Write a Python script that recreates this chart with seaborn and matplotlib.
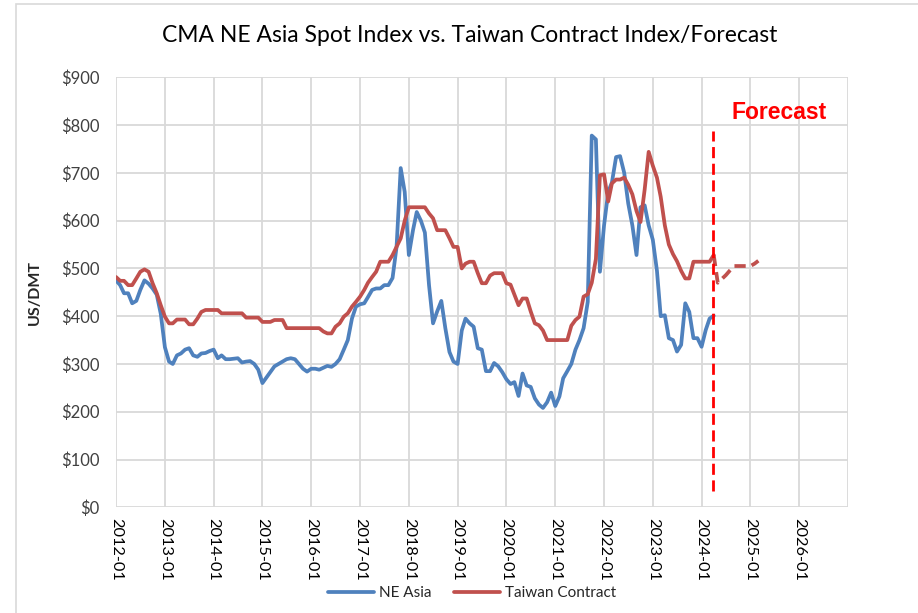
import numpy as np
import pandas as pd
import matplotlib
matplotlib.use("Agg")
import matplotlib.pyplot as plt
from matplotlib.lines import Line2D
from matplotlib.patches import Rectangle
import seaborn as sns

# monthly values, starting 2012-01
start_month = "2012-01-01"

ne_asia = [
    475, 465, 448, 448, 427, 432, 455, 475, 468, 458, 445, 405,   # 2012
    335, 305, 300, 318, 322, 330, 333, 318, 315, 322, 323, 327,   # 2013
    330, 312, 318, 310, 310, 311, 312, 303, 305, 306, 300, 288,   # 2014
    260, 272, 283, 295, 300, 305, 310, 312, 310, 300, 290, 284,   # 2015
    290, 290, 288, 292, 296, 294, 300, 310, 330, 350, 395, 420,   # 2016
    425, 427, 440, 455, 458, 458, 465, 465, 480, 545, 710, 660,   # 2017
    528, 580, 618, 600, 575, 465, 385, 410, 432, 375, 325, 305,   # 2018
    300, 370, 395, 385, 378, 333, 330, 285, 285, 302, 295, 283,   # 2019
    268, 258, 262, 233, 280, 255, 252, 228, 215, 208, 220, 240,   # 2020
    212, 232, 270, 285, 300, 330, 350, 375, 430, 778, 770, 493,   # 2021
    590, 660, 680, 733, 735, 700, 636, 590, 528, 628, 632, 590,   # 2022
    560, 495, 400, 402, 354, 350, 326, 340, 427, 409, 354, 354,   # 2023
    336, 371, 395, 401,                                           # 2024
]

taiwan = [
    482, 474, 474, 465, 465, 479, 493, 498, 493, 469, 448, 423,   # 2012
    399, 385, 385, 393, 393, 393, 383, 383, 395, 409, 413, 413,   # 2013
    413, 413, 406, 406, 406, 406, 406, 406, 397, 397, 397, 397,   # 2014
    388, 388, 388, 392, 392, 392, 375, 375, 375, 375, 375, 375,   # 2015
    375, 375, 375, 368, 364, 364, 378, 385, 399, 406, 420, 430,   # 2016
    441, 455, 470, 482, 493, 514, 514, 514, 528, 545, 563, 600,   # 2017
    628, 628, 628, 628, 628, 615, 605, 580, 580, 580, 563, 545,   # 2018
    545, 500, 510, 514, 514, 490, 469, 469, 485, 490, 490, 490,   # 2019
    469, 466, 445, 423, 437, 437, 410, 385, 381, 370, 350, 350,   # 2020
    350, 350, 350, 350, 380, 392, 399, 441, 446, 470, 520, 695,   # 2021
    697, 640, 678, 686, 686, 690, 675, 655, 620, 597, 665, 744,   # 2022
    715, 690, 650, 590, 550, 530, 515, 495, 479, 479, 514, 514,   # 2023
    514, 514, 514, 528,                                           # 2024
]

# Taiwan contract forecast, starting 2024-04
forecast_start = "2024-04-01"
taiwan_forecast = [528, 470, 478, 486, 496, 505, 505, 505, 505, 505, 510, 516]

year_ticks = [f"{y}-01" for y in range(2012, 2027)]
y_ticks = list(range(0, 1000, 100))

# forecast marker
forecast_line_date = "2024-03-25"
forecast_line_range = (35, 787)
forecast_label_date = "2024-08-15"
forecast_label_y = 826

blue = "#4F81BD"
red = "#C0504D"
grid_gray = "#D9D9D9"

df = pd.DataFrame({
    "date": pd.date_range(start_month, periods=len(ne_asia), freq="MS"),
    "NE Asia": ne_asia,
    "Taiwan Contract": taiwan,
})
df_fc = pd.DataFrame({
    "date": pd.date_range(forecast_start, periods=len(taiwan_forecast), freq="MS"),
    "Taiwan Forecast": taiwan_forecast,
})

sns.set_theme(style="white")
plt.rcParams["font.family"] = ["Lato", "DejaVu Sans"]

fig = plt.figure(figsize=(9.18, 6.13), dpi=100)
ax = fig.add_axes([116 / 918, 1 - 507.3 / 613, (848 - 116) / 918, (507.3 - 77.3) / 613])

# outer chart frame
fig.patches.append(Rectangle((16 / 918, -0.1), 1.2, 1 - 4 / 613 + 0.1, transform=fig.transFigure,
                             fill=False, edgecolor=grid_gray, lw=1.2))

sns.lineplot(data=df, x="date", y="NE Asia", ax=ax, color=blue, lw=2.7)
sns.lineplot(data=df, x="date", y="Taiwan Contract", ax=ax, color=red, lw=2.7)
sns.lineplot(data=df_fc, x="date", y="Taiwan Forecast", ax=ax, color=red, lw=2.7,
             linestyle=(0, (3, 1.6)))

ax.vlines(pd.Timestamp(forecast_line_date), *forecast_line_range, color="#FF0000", lw=2,
          linestyles=(0, (4, 2)))
ax.text(pd.Timestamp(forecast_label_date), forecast_label_y, "Forecast", color="#FF0000",
        fontsize=16.5, fontweight="bold", va="center", ha="left", family=["Liberation Sans"])

ax.set_xlim(pd.Timestamp("2012-01-01"), pd.Timestamp("2027-01-01"))
ax.set_ylim(0, 900)
ax.set_yticks(y_ticks)
ax.set_yticklabels([f"${v}" for v in y_ticks], fontsize=12, color="#404040")
ax.set_xticks(pd.to_datetime(year_ticks + ["2027-01"]))
ax.set_xticklabels(year_ticks + [""], rotation=-90, fontsize=11.8, color="#000000")
ax.tick_params(axis="y", length=0, pad=12)
ax.tick_params(axis="x", length=5, color=grid_gray, pad=3, width=1)

ax.grid(True, color=grid_gray, lw=1.3)
for s in ax.spines.values():
    s.set_visible(False)

ax.set_xlabel("")
ax.set_ylabel("US/DMT", fontsize=11.5, fontweight="bold", labelpad=14)

fig.text(470 / 918, 1 - 36 / 613, "CMA NE Asia Spot Index vs. Taiwan Contract Index/Forecast",
         ha="center", va="center", fontsize=16.5, color="#000000")

handles = [Line2D([], [], color=blue, lw=2.7), Line2D([], [], color=red, lw=2.7)]
fig.legend(handles, ["NE Asia", "Taiwan Contract"], loc="center", bbox_to_anchor=(472 / 918, 1 - 593 / 613),
           ncol=2, frameon=False, fontsize=11, handlelength=3, handletextpad=0.3, columnspacing=1.5)

fig.savefig("out.png", dpi=100)
